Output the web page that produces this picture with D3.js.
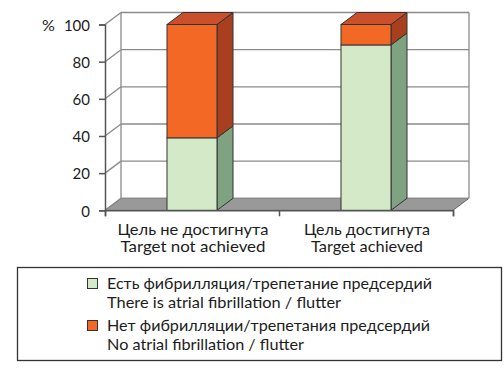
<!DOCTYPE html>
<html><head><meta charset="utf-8">
<script src="https://cdn.jsdelivr.net/npm/d3@7"></script>
<style>body{margin:0;background:#fff}svg{display:block}text{font-family:Lato,sans-serif;fill:#1c1c1c}</style>
</head><body>
<script>
const categoriesRu = ["Цель не достигнута", "Цель достигнута"];
const categoriesEn = ["Target not achieved", "Target achieved"];
const seriesAF = [39, 89];
const seriesNoAF = [61, 11];
const yTicks = [0, 20, 40, 60, 80, 100];
const legendRu = ["Есть фибрилляция/трепетание предсердий", "Нет фибрилляции/трепетания предсердий"];
const legendEn = ["There is atrial fibrillation / flutter", "No atrial fibrillation / flutter"];

const W = 504, H = 369;
const svg = d3.select("body").append("svg").attr("width", W).attr("height", H);
const DX = 16, DY = -12;
const x = d3.scaleBand().domain(d3.range(categoriesRu.length)).range([105, 453]);
const y = d3.scaleLinear().domain([0, 100]).range([210.3, 24.5]);
const barW = 50;

const g = svg.append("g");
const x0 = x.range()[0], x1 = x.range()[1];
const gridCol = "#8a8a8a";
// floor
g.append("path").attr("d", `M${x0},${y(0)}L${x0+DX},${y(0)+DY}L${x1+DX},${y(0)+DY}L${x1},${y(0)}Z`)
  .attr("fill", "#999").attr("stroke", "#666").attr("stroke-width", 1);
// back wall gridlines
yTicks.forEach(t => {
  g.append("line").attr("x1", x0+DX).attr("x2", x1+DX).attr("y1", y(t)+DY).attr("y2", y(t)+DY)
    .attr("stroke", gridCol).attr("stroke-width", 1.3);
  g.append("line").attr("x1", x0).attr("x2", x0+DX).attr("y1", y(t)).attr("y2", y(t)+DY)
    .attr("stroke", gridCol).attr("stroke-width", 1.3);
});
g.append("line").attr("x1", x0+DX).attr("x2", x0+DX).attr("y1", y(100)+DY).attr("y2", y(0)+DY).attr("stroke", gridCol).attr("stroke-width", 1.3);
g.append("line").attr("x1", x1+DX).attr("x2", x1+DX).attr("y1", y(100)+DY).attr("y2", y(0)+DY).attr("stroke", gridCol).attr("stroke-width", 1.3);

// bars
const colors = [
  {front: "#d4e9c8", side: "#7fa380", top: "#b9d4ab"},
  {front: "#f26824", side: "#a8401f", top: "#c9502a"}
];
const stacks = categoriesRu.map((c, i) => {
  const a = seriesAF[i], b = seriesNoAF[i];
  return [{lo: 0, hi: a, c: colors[0]}, {lo: a, hi: a + b, c: colors[1]}];
});
stacks.forEach((segs, i) => {
  const bx = x(i) + (x.bandwidth() - barW) / 2;
  const bg = g.append("g");
  segs.forEach((s, k) => {
    const yt = y(s.hi), yb = y(s.lo);
    bg.append("path").attr("d", `M${bx+barW},${yb}L${bx+barW+DX},${yb+DY}L${bx+barW+DX},${yt+DY}L${bx+barW},${yt}Z`)
      .attr("fill", s.c.side).attr("stroke", "#333").attr("stroke-width", 1).attr("stroke-linejoin", "round");
    bg.append("rect").attr("x", bx).attr("y", yt).attr("width", barW).attr("height", yb - yt)
      .attr("fill", s.c.front).attr("stroke", "#333").attr("stroke-width", 1);
    if (k === segs.length - 1) {
      bg.append("path").attr("d", `M${bx},${yt}L${bx+DX},${yt+DY}L${bx+barW+DX},${yt+DY}L${bx+barW},${yt}Z`)
        .attr("fill", s.c.top).attr("stroke", "#333").attr("stroke-width", 1).attr("stroke-linejoin", "round");
    }
  });
});

// y axis
const ya = svg.append("g").attr("transform", `translate(${x0},0)`)
  .call(d3.axisLeft(y).tickValues(yTicks).tickSize(6).tickPadding(9));
ya.select(".domain").attr("stroke", "#555").attr("stroke-width", 1.5);
ya.selectAll(".tick line").attr("stroke", "#555").attr("stroke-width", 1.5);
ya.selectAll(".tick text").style("font-size", "16px").style("font-family", "Lato").attr("fill", "#1c1c1c").attr("dy", "0.36em")
  .attr("textLength", d => String(d).length * 8.7).attr("lengthAdjust", "spacingAndGlyphs");
svg.append("text").attr("x", 42).attr("y", y(100) + 6).style("font-size", "16px").text("%");

// x axis
const xb = d3.scaleLinear().domain([0, categoriesRu.length]).range([x0, x1]);
const xa = svg.append("g").attr("transform", `translate(0,${y(0)})`)
  .call(d3.axisBottom(xb).tickValues(d3.range(categoriesRu.length + 1)).tickSize(6).tickFormat(""));
xa.select(".domain").attr("stroke", "#555").attr("stroke-width", 1.5);
xa.selectAll(".tick line").attr("stroke", "#555").attr("stroke-width", 1.5);
const ruW = [151, 126], enW = [145, 112];
categoriesRu.forEach((c, i) => {
  const cx = x(i) + x.bandwidth() / 2 + 1;
  svg.append("text").attr("x", cx).attr("y", 235).attr("text-anchor", "middle").style("font-size", "15px")
    .attr("textLength", ruW[i]).attr("lengthAdjust", "spacingAndGlyphs").text(c);
  svg.append("text").attr("x", cx).attr("y", 252).attr("text-anchor", "middle").style("font-size", "15px")
    .attr("textLength", enW[i]).attr("lengthAdjust", "spacingAndGlyphs").text(categoriesEn[i]);
});

// legend
svg.append("rect").attr("x", 17.5).attr("y", 267.5).attr("width", 484).attr("height", 93)
  .attr("fill", "#fff").attr("stroke", "#333").attr("stroke-width", 1.3);
const lRuW = [325, 323], lEnW = [234, 197];
[0, 1].forEach(k => {
  const yy = 278 + k * 42;
  svg.append("rect").attr("x", 87.5).attr("y", yy + 0.5).attr("width", 10).attr("height", 10)
    .attr("fill", colors[k].front).attr("stroke", "#333").attr("stroke-width", 1);
  svg.append("text").attr("x", 107).attr("y", yy + 11).style("font-size", "15px")
    .attr("textLength", lRuW[k]).attr("lengthAdjust", "spacingAndGlyphs").text(legendRu[k]);
  svg.append("text").attr("x", 107).attr("y", yy + 30).style("font-size", "15px")
    .attr("textLength", lEnW[k]).attr("lengthAdjust", "spacingAndGlyphs").text(legendEn[k]);
});
</script>
</body></html>
